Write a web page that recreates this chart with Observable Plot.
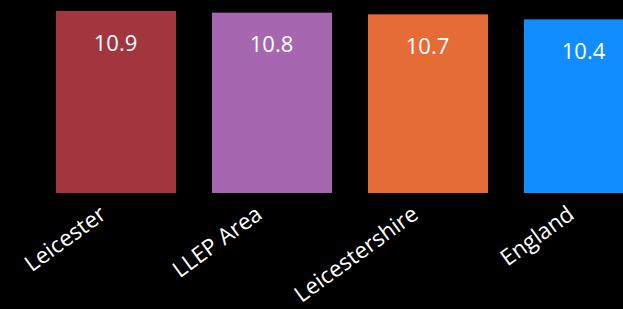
<!DOCTYPE html>
<html>
<head>
<meta charset="utf-8">
<script src="https://cdn.jsdelivr.net/npm/d3@7"></script>
<script src="https://cdn.jsdelivr.net/npm/@observablehq/plot@0.6"></script>
<style>
  html, body { margin: 0; padding: 0; background: #000; overflow: hidden; }
  #chart svg { display: block; }
</style>
</head>
<body>
<div id="chart"></div>
<script>
const categories = ["Leicester", "LLEP Area", "Leicestershire", "England"];
const values = [10.9, 10.8, 10.7, 10.4];
const colors = ["#A3353E", "#A667B0", "#E66C37", "#118DFF"];
const valueLabels = ["10.9", "10.8", "10.7", "10.4"];

const data = categories.map((c, i) => ({category: c, value: values[i], color: colors[i], label: valueLabels[i]}));

const chart = Plot.plot({
  width: 623,
  height: 309,
  marginTop: 0,
  marginBottom: 116,
  marginLeft: 0,
  marginRight: 0,
  style: {background: "#000", color: "#fff", fontFamily: "'Open Sans', sans-serif"},
  x: {domain: categories, range: [38, 662], paddingInner: 0.2308, paddingOuter: 0.1154, axis: null},
  y: {domain: [0, 11.56], axis: null},
  marks: [
    Plot.barY(data, {x: "category", y: "value", fill: "color"}),
    Plot.text(data, {x: "category", y: "value", text: "label", fill: "#fff", fontSize: 22, dx: -1, dy: 32, lineAnchor: "middle"}),
    Plot.text(data, {x: "category", y: () => 0, text: "category", fill: "#fff", fontSize: 22.5, letterSpacing: "0.3px", rotate: -36, textAnchor: "end", lineAnchor: "middle", dx: -13, dy: 18})
  ]
});
document.getElementById("chart").appendChild(chart);
</script>
</body>
</html>
